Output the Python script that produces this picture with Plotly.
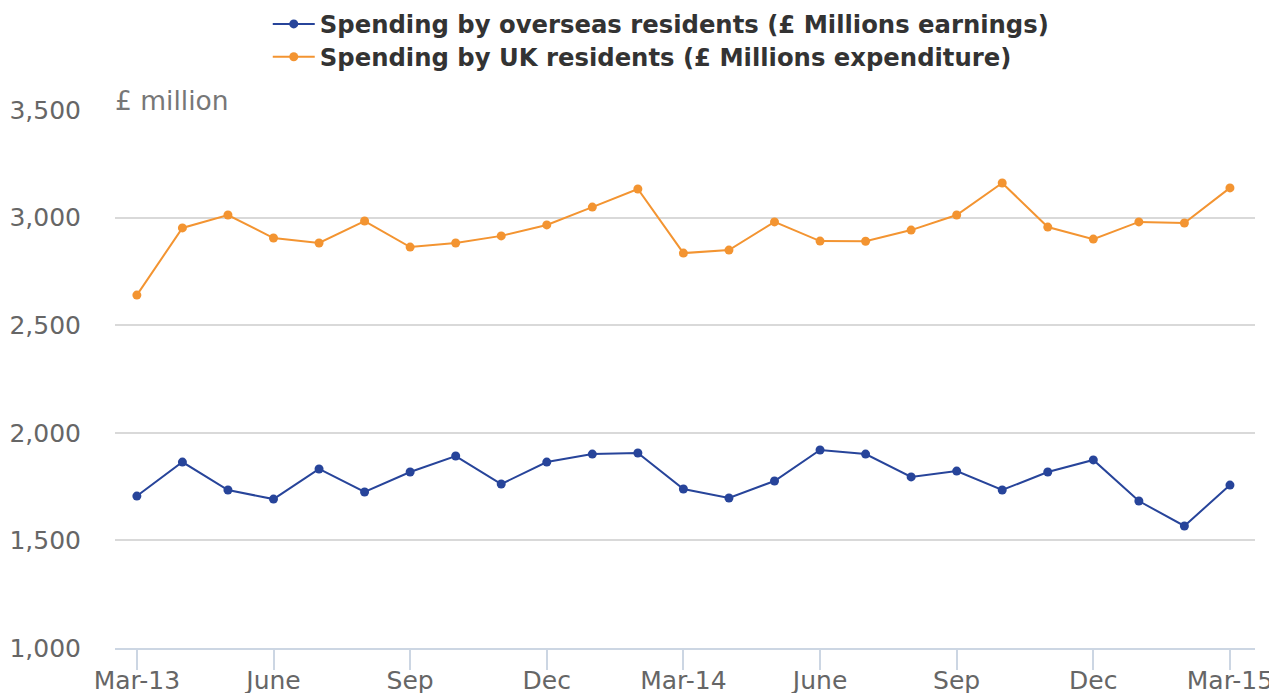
import plotly.graph_objects as go

months = ["Mar-13","Apr-13","May-13","Jun-13","Jul-13","Aug-13","Sep-13","Oct-13","Nov-13","Dec-13",
          "Jan-14","Feb-14","Mar-14","Apr-14","May-14","Jun-14","Jul-14","Aug-14","Sep-14","Oct-14",
          "Nov-14","Dec-14","Jan-15","Feb-15","Mar-15"]
overseas = [1706,1864,1734,1692,1832,1725,1818,1892,1762,1864,1901,1906,1739,1697,1776,1920,1901,
            1795,1822,1734,1818,1874,1683,1567,1757]
uk = [2640,2952,3012,2905,2882,2984,2863,2882,2915,2966,3049,3133,2835,2849,2980,2891,2890,
      2942,3012,3161,2956,2900,2980,2975,3138]
tick_labels = ["Mar-13","June","Sep","Dec","Mar-14","June","Sep","Dec","Mar-15"]
tick_pos = months[::3]

name_overseas = "Spending by overseas residents (£ Millions earnings)"
name_uk = "Spending by UK residents (£ Millions expenditure)"

blue = "#27449a"
orange = "#f39431"
FONT = "DejaVu Sans"

fig = go.Figure()
fig.add_trace(go.Scatter(x=months, y=overseas, mode="lines+markers", name=name_overseas,
                         legend="legend",
                         line=dict(color=blue, width=2), marker=dict(size=9, color=blue)))
fig.add_trace(go.Scatter(x=months, y=uk, mode="lines+markers", name=name_uk,
                         legend="legend2",
                         line=dict(color=orange, width=2), marker=dict(size=9, color=orange)))

legend_font = dict(family=FONT, size=24.3, color="#333333", weight="bold")
fig.update_layout(
    width=1277, height=693,
    margin=dict(l=107, r=30, t=102, b=53, autoexpand=False),
    paper_bgcolor="white", plot_bgcolor="white",
    font=dict(family=FONT, color="#666666", size=25),
    showlegend=True,
    legend=dict(x=0.134, xanchor="left", y=1.1596, yanchor="middle", font=legend_font,
                bgcolor="rgba(0,0,0,0)", itemwidth=42),
    legend2=dict(x=0.134, xanchor="left", y=1.0986, yanchor="middle", font=legend_font,
                 bgcolor="rgba(0,0,0,0)", itemwidth=42),
    xaxis=dict(type="category", range=[-0.48, 24.55], tickmode="array", tickvals=tick_pos,
               ticktext=tick_labels, showgrid=False, showline=True, linecolor="#ccd6e3", linewidth=2,
               ticks="outside", ticklen=20, tickcolor="#ccd6e3", tickwidth=1.5,
               ticklabelstandoff=-11,
               tickfont=dict(family=FONT, size=25, color="#666666"), zeroline=False),
    yaxis=dict(range=[1000, 3500], tickvals=[1000,1500,2000,2500,3000,3500],
               tickformat=",", showgrid=True, gridcolor="#d9d9d9", gridwidth=2,
               zeroline=False, showline=False, ticks="", ticklabelstandoff=33,
               tickfont=dict(family=FONT, size=25, color="#666666")),
)
fig.add_annotation(text="£ million", xref="paper", yref="paper", x=0.0, y=1.0,
                   xanchor="left", yanchor="bottom", showarrow=False,
                   font=dict(family=FONT, size=26.5, color="#777777"), xshift=-2, yshift=-8)

fig.write_html("out.html")
